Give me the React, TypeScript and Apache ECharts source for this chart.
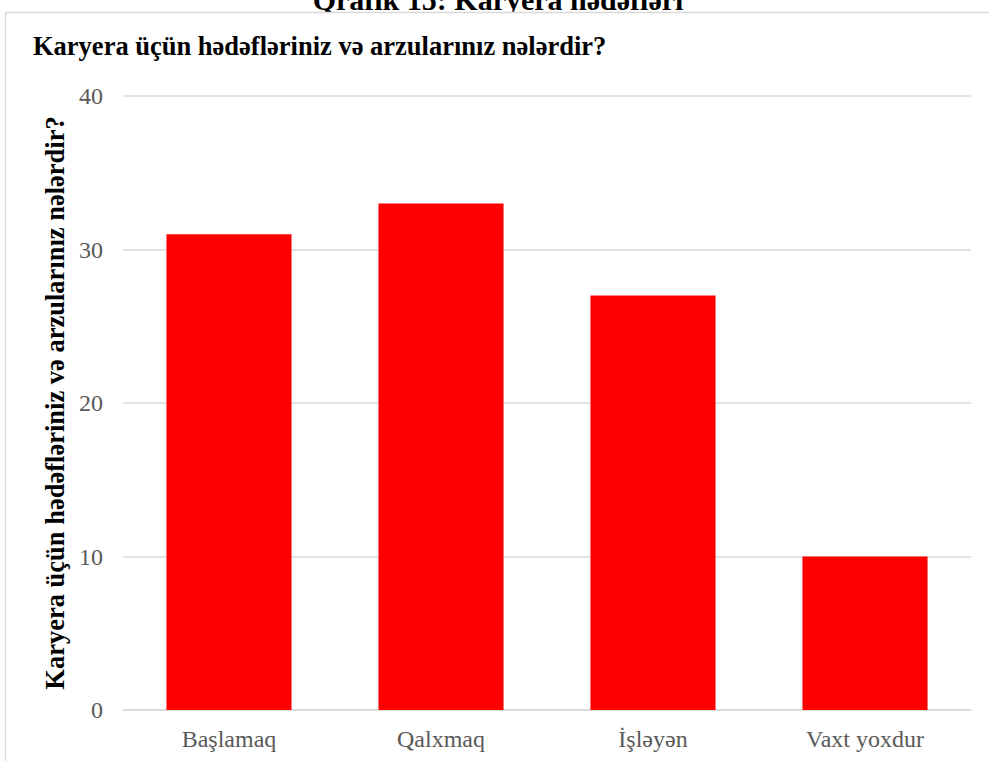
import React, { useEffect, useRef } from "react";
import * as echarts from "echarts";

const categories = ["Başlamaq", "Qalxmaq", "İşləyən", "Vaxt yoxdur"];
const values = [31, 33, 27, 10];
const yTicks = [0, 10, 20, 30, 40];

const chartTitle = "Qrafik 15: Karyera hədəfləri";
const subTitle = "Karyera üçün hədəfləriniz və arzularınız nələrdir?";
const yAxisName = "Karyera üçün hədəfləriniz və arzularınız nələrdir?";

export default function App() {
  const ref = useRef<HTMLDivElement>(null);
  useEffect(() => {
    document.body.style.margin = "0";
    const chart = echarts.init(ref.current!, null, { renderer: "svg" });
    const serif = "'Liberation Serif', 'Times New Roman', serif";
    chart.setOption({
      animation: false,
      backgroundColor: "#ffffff",
      graphic: [
        {
          type: "text",
          x: 498,
          y: -1,
          z: 0,
          style: {
            text: chartTitle,
            font: `bold 30px ${serif}`,
            fill: "#000000",
            align: "center",
            verticalAlign: "middle",
          },
        },
        {
          type: "rect",
          z: 1,
          shape: { x: 280, y: 12, width: 440, height: 30 },
          style: { fill: "#ffffff", stroke: "none" },
          silent: true,
        },
        {
          type: "rect",
          z: 2,
          shape: { x: 5.5, y: 12.5, width: 1100, height: 900 },
          style: { fill: "none", stroke: "#d9d9d9", lineWidth: 1.5 },
          silent: true,
        },
        {
          type: "text",
          x: 33,
          y: 46,
          z: 2,
          style: {
            text: subTitle,
            font: `bold 26.5px ${serif}`,
            fill: "#000000",
            align: "left",
            verticalAlign: "middle",
          },
        },
      ],
      grid: { left: 123, right: 18, top: 96, bottom: 51, containLabel: false },
      xAxis: {
        type: "category",
        data: categories,
        axisLine: { show: true, lineStyle: { color: "#d9d9d9", width: 1.5 } },
        axisTick: { show: false },
        axisLabel: {
          color: "#595959",
          fontFamily: serif,
          fontSize: 24,
          margin: 17,
        },
      },
      yAxis: {
        type: "value",
        min: yTicks[0],
        max: yTicks[yTicks.length - 1],
        interval: 10,
        name: yAxisName,
        nameLocation: "middle",
        nameGap: 51,
        nameTextStyle: {
          color: "#000000",
          fontFamily: serif,
          fontWeight: "bold",
          fontSize: 26.5,
        },
        axisLine: { show: false },
        axisTick: { show: false },
        splitLine: { lineStyle: { color: "#d9d9d9", width: 1.5 } },
        axisLabel: {
          color: "#595959",
          fontFamily: serif,
          fontSize: 24,
          margin: 20,
        },
      },
      series: [
        {
          type: "bar",
          data: values,
          barCategoryGap: "41%",
          itemStyle: { color: "#ff0000" },
        },
      ],
    });
    return () => chart.dispose();
  }, []);
  return (
    <div
      ref={ref}
      style={{ position: "fixed", left: 0, top: 0, width: 989, height: 761 }}
    />
  );
}
